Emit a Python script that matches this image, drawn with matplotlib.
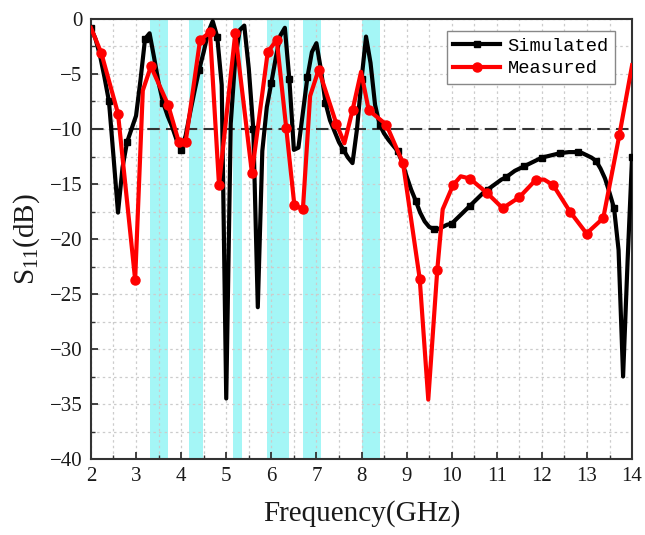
import numpy as np
import matplotlib
matplotlib.use('Agg')
import matplotlib.pyplot as plt
from matplotlib.ticker import MultipleLocator

# Simulated S11, 0.1 GHz steps from 2 to 14 GHz
sim_freq = np.round(np.arange(2.0, 14.01, 0.1), 2)
sim_db = [
    -0.8, -1.8, -3.3, -5.3, -7.5, -12.5, -17.6, -13.5, -11.2, -10.0,   # 2.0-2.9
    -8.8, -5.5, -1.8, -1.3, -3.5, -5.8, -7.6, -8.8, -9.8, -11.0,       # 3.0-3.9
    -11.9, -10.6, -8.5, -6.5, -4.6, -3.0, -1.2, -0.2, -1.6, -6.0,      # 4.0-4.9
    -34.5, -9.5, -3.6, -1.0, -0.6, -4.5, -10.0, -26.2, -12.0, -8.0,    # 5.0-5.9
    -5.8, -3.5, -1.5, -0.8, -5.5, -11.9, -11.7, -8.5, -5.3, -3.0,      # 6.0-6.9
    -2.2, -4.6, -7.6, -9.2, -10.2, -11.2, -11.9, -12.6, -13.1, -10.0,  # 7.0-7.9
    -5.5, -1.6, -4.0, -7.8, -9.6, -10.4, -11.0, -11.5, -12.0, -13.0,   # 8.0-8.9
    -14.3, -15.5, -16.5, -17.6, -18.4, -18.9, -19.1, -19.1, -18.9, -18.7,  # 9.0-9.9
    -18.6, -18.2, -17.8, -17.4, -17.0, -16.6, -16.2, -15.8, -15.5, -15.2,  # 10.0-10.9
    -14.9, -14.6, -14.4, -14.1, -13.8, -13.6, -13.4, -13.2, -13.0, -12.8,  # 11.0-11.9
    -12.6, -12.5, -12.4, -12.3, -12.2, -12.15, -12.1, -12.1, -12.1, -12.2,  # 12.0-12.9
    -12.4, -12.6, -12.9, -13.6, -14.5, -15.8, -17.2, -21.0, -32.5, -22.0,  # 13.0-13.9
    -12.5,                                                              # 14.0
]

# Measured S11
meas_freq = [2.0, 2.23, 2.6, 2.98, 3.15, 3.33, 3.71, 3.95, 4.1, 4.42, 4.64, 4.84,
             5.2, 5.57, 5.92, 6.12, 6.33, 6.51, 6.7, 6.86, 7.05, 7.44, 7.62, 7.8,
             7.99, 8.16, 8.55, 8.92, 9.29, 9.48, 9.68, 9.8, 10.03, 10.2, 10.4,
             10.78, 11.13, 11.5, 11.87, 12.05, 12.25, 12.62, 12.99, 13.36, 13.72, 14.0]
meas_db = [-0.8, -3.1, -8.6, -23.7, -6.5, -4.3, -7.8, -11.2, -11.2, -1.9, -1.2, -15.1,
           -1.3, -14.0, -3.0, -1.9, -9.9, -16.9, -17.3, -7.0, -4.6, -9.5, -11.3, -8.3,
           -4.8, -8.3, -9.6, -13.1, -23.6, -34.6, -22.8, -17.3, -15.1, -14.3, -14.5,
           -15.8, -17.2, -16.2, -14.6, -14.6, -15.1, -17.5, -19.5, -18.1, -10.5, -4.2]
meas_unmarked = [2.0, 3.15, 6.86, 7.62, 7.99, 9.48, 9.8, 10.2, 12.05, 14.0]

# Highlighted bands (GHz)
bands = [(3.3, 3.7), (4.18, 4.49), (5.14, 5.36), (5.9, 6.39), (6.7, 7.1), (8.0, 8.4)]

serif = 'Liberation Serif'
plt.rcParams['mathtext.fontset'] = 'custom'
plt.rcParams['mathtext.rm'] = serif
plt.rcParams['mathtext.it'] = serif

fig = plt.figure(figsize=(6.45, 5.35), dpi=100)
ax = fig.add_axes([0.141, 0.142, 0.839, 0.8225])

for lo, hi in bands:
    ax.axvspan(lo, hi, color='#a4f6f6', lw=0, zorder=0.2)

ax.axhline(-10, color='#333333', lw=1.5, ls=(0, (6, 3)), zorder=1.5)

ax.plot(sim_freq, sim_db, color='black', lw=3.0, marker='s', ms=5,
        markevery=4, label='Simulated', zorder=3)
mark_idx = [i for i, f in enumerate(meas_freq) if f not in meas_unmarked]
ax.plot(meas_freq, meas_db, color='#ff0000', lw=3.0, marker='o', ms=6.5,
        markevery=mark_idx, label='Measured', zorder=4)

ax.set_xlim(2, 14)
ax.set_ylim(-40, 0)
ax.xaxis.set_major_locator(MultipleLocator(1))
ax.xaxis.set_minor_locator(MultipleLocator(0.5))
ax.yaxis.set_major_locator(MultipleLocator(5))
ax.yaxis.set_minor_locator(MultipleLocator(2.5))
ax.set_axisbelow(True)
ax.grid(True, which='both', color='#cccccc', ls=(0, (2, 2.5)), lw=0.9)

ax.tick_params(which='both', direction='in', top=False, right=False, colors='#333333')
ax.tick_params(which='major', length=5, width=1.3, labelsize=15, labelcolor='#1a1a1a', pad=6)
ax.tick_params(which='minor', length=3, width=1.0)
for lab in ax.get_xticklabels() + ax.get_yticklabels():
    lab.set_family(serif)
for sp in ax.spines.values():
    sp.set_color('#333333')
    sp.set_linewidth(1.5)

ax.set_xlabel('Frequency(GHz)', family=serif, fontsize=21, color='#1a1a1a', labelpad=10)
ax.set_ylabel('S$_{11}$(dB)', family=serif, fontsize=21, color='#1a1a1a', labelpad=6)

leg = ax.legend(loc='upper right', bbox_to_anchor=(0.969, 0.973), borderaxespad=0,
                prop={'family': 'Liberation Mono', 'size': 13.5}, numpoints=1,
                handlelength=2.5, handletextpad=0.4, labelspacing=0.3,
                borderpad=0.35, fancybox=False, framealpha=1)
leg.get_frame().set_edgecolor('#888888')
leg.get_frame().set_linewidth(1.0)

fig.savefig('out.png', dpi=100)
